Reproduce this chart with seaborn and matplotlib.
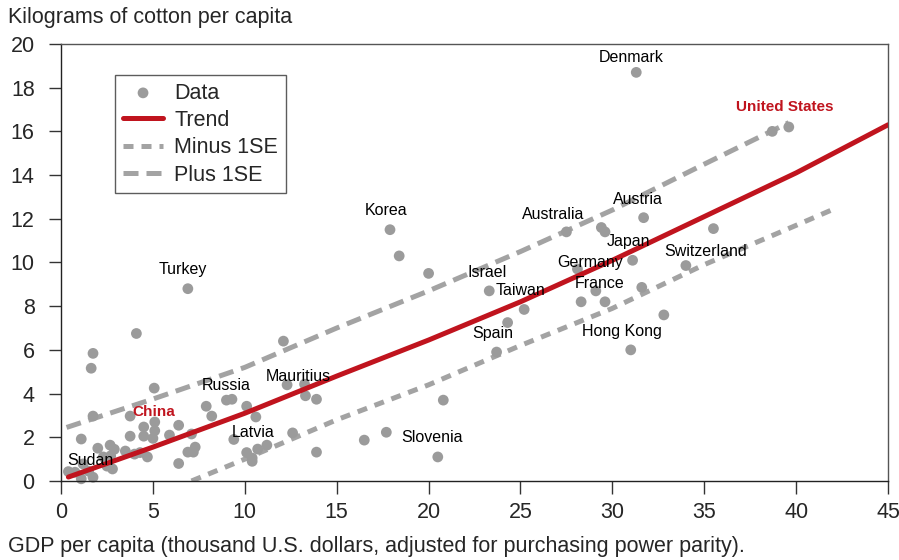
import numpy as np
import pandas as pd
import matplotlib
matplotlib.use("Agg")
import matplotlib.pyplot as plt
import seaborn as sns

# countries: GDP per capita (thousand US$, PPP) vs kg of cotton per capita
gdp = [31.3, 38.7, 39.6, 31.7, 27.5, 29.4, 29.6, 31.1, 35.5, 34.0,
       28.1, 29.1, 31.6, 28.3, 29.6, 32.8, 31.0, 17.9, 18.4, 20.0,
       23.3, 25.2, 24.3, 23.7, 6.9, 4.1, 1.74, 1.64, 5.07, 12.1,
       7.9, 8.2, 9.0, 9.3, 10.1, 10.6, 12.3, 13.25, 13.3, 13.9,
       9.4, 12.6, 10.1, 10.4, 10.7, 11.2, 13.9, 16.5, 17.7, 20.8,
       20.5, 1.74, 1.1, 2.0, 2.67, 3.76, 3.76, 4.5, 5.1, 4.5,
       5.9, 6.4, 7.1, 5.1, 3.5, 4.0, 4.7, 6.4, 6.9, 7.3,
       7.2, 0.4, 0.76, 1.1, 1.5, 1.74, 2.5, 2.8, 2.3, 2.7,
       1.2, 2.9, 4.3, 5.0, 10.4]
cotton = [18.7, 16.0, 16.2, 12.05, 11.4, 11.6, 11.4, 10.1, 11.55, 9.86,
          9.7, 8.7, 8.86, 8.2, 8.2, 7.6, 6.0, 11.5, 10.3, 9.5,
          8.7, 7.85, 7.25, 5.9, 8.8, 6.75, 5.84, 5.16, 4.25, 6.4,
          3.42, 2.97, 3.7, 3.74, 3.42, 2.93, 4.4, 4.43, 3.9, 3.74,
          1.9, 2.2, 1.3, 1.05, 1.46, 1.64, 1.32, 1.87, 2.23, 3.7,
          1.1, 2.97, 1.92, 1.5, 1.64, 2.05, 2.97, 2.47, 2.3, 2.05,
          2.1, 2.55, 2.15, 2.7, 1.37, 1.23, 1.1, 0.8, 1.32, 1.55,
          1.32, 0.43, 0.4, 0.1, 0.45, 0.17, 0.68, 0.55, 1.1, 1.15,
          0.78, 1.45, 1.3, 1.95, 0.9]

# trend and +/- 1 standard error bands
trend_x = [0.4, 5, 10, 15, 20, 25, 30, 35, 40, 45]
trend_y = [0.18, 1.55, 3.1, 4.8, 6.45, 8.2, 10.1, 12.1, 14.1, 16.3]
plus_x = [0.3, 5, 10, 15, 20, 25, 30, 35, 39.6]
plus_y = [2.45, 3.75, 5.2, 7.0, 8.7, 10.5, 12.4, 14.5, 16.4]
minus_x = [7.1, 10, 15, 20, 25, 30, 35, 40, 42.2]
minus_y = [0.0, 1.0, 2.8, 4.4, 6.2, 7.9, 9.9, 11.7, 12.5]

# country labels
names = ["Denmark", "United States", "Korea", "Australia", "Austria", "Japan",
         "Switzerland", "Germany", "France", "Israel", "Taiwan", "Spain",
         "Hong Kong", "Turkey", "Russia", "Mauritius", "China", "Latvia",
         "Slovenia", "Sudan"]
label_x = [31.0, 39.4, 17.66, 26.8, 31.4, 30.85, 35.1, 28.77, 29.3, 23.2,
           25.0, 23.5, 30.5, 6.64, 8.98, 12.9, 5.06, 10.45, 20.2, 1.58]
label_y = [19.4, 17.1, 12.36, 12.2, 12.9, 10.98, 10.48, 9.98, 9.06, 9.56,
           8.74, 6.73, 6.82, 9.66, 4.39, 4.76, 3.16, 2.24, 1.97, 0.96]
highlight = ["United States", "China"]

RED = "#c0141e"
GRAY = "#a3a3a3"

sns.set_style("white")
plt.rcParams['font.family'] = ['Liberation Sans', 'DejaVu Sans']

fig = plt.figure(figsize=(8.99, 5.6), dpi=100)
ax = fig.add_axes([0.0679, 0.1411, 0.9199, 0.7804])

df = pd.DataFrame({"gdp": gdp, "cotton": cotton})
sns.scatterplot(data=df, x="gdp", y="cotton", ax=ax, color="#9b9b9b", s=60,
                edgecolor="none", clip_on=False, zorder=2, label="Data")
sns.lineplot(x=trend_x, y=trend_y, ax=ax, color=RED, linewidth=3.6,
             zorder=3, label="Trend", sort=False)
sns.lineplot(x=minus_x, y=minus_y, ax=ax, color=GRAY, linewidth=3.6,
             linestyle=(0, (2.0, 1.6)), dash_capstyle="butt", zorder=1,
             label="Minus 1SE", sort=False)
sns.lineplot(x=plus_x, y=plus_y, ax=ax, color=GRAY, linewidth=3.6,
             linestyle=(0, (3.0, 1.6)), dash_capstyle="butt", zorder=1,
             label="Plus 1SE", sort=False)

for n, lx, ly in zip(names, label_x, label_y):
    if n in highlight:
        ax.text(lx, ly, n, color=RED, fontsize=11, fontweight="bold",
                ha="center", va="center", zorder=4)
    else:
        ax.text(lx, ly, n, color="black", fontsize=11.5,
                ha="center", va="center", zorder=4)

ax.set_xlim(0, 45)
ax.set_ylim(0, 20)
ax.set_xticks(np.arange(0, 46, 5))
ax.set_yticks(np.arange(0, 21, 2))
ax.set_xlabel("")
ax.set_ylabel("")
ax.tick_params(axis="both", direction="out", length=9, width=1,
               color="#333333", labelsize=15.5,
               bottom=True, left=True)
ax.tick_params(axis="x", pad=6)
ax.tick_params(axis="y", pad=10)
for side in ["left", "bottom"]:
    ax.spines[side].set_color("#222222")
    ax.spines[side].set_linewidth(1.0)
for side in ["top", "right"]:
    ax.spines[side].set_color("#555555")
    ax.spines[side].set_linewidth(1.0)

leg = ax.legend(loc="upper left", bbox_to_anchor=(0.0653, 0.929),
                borderaxespad=0, fontsize=15.5, frameon=True, fancybox=False,
                handlelength=1.9, handletextpad=0.5, labelspacing=0.3,
                borderpad=0.35)
leg.get_frame().set_edgecolor("#333333")
leg.get_frame().set_linewidth(1.0)

fig.text(0.009, 0.968, "Kilograms of cotton per capita", fontsize=15.5,
         ha="left", va="center")
fig.text(0.009, 0.024, "GDP per capita (thousand U.S. dollars, adjusted for purchasing power parity).",
         fontsize=15.5, ha="left", va="center")

fig.savefig("out.png", dpi=100)
